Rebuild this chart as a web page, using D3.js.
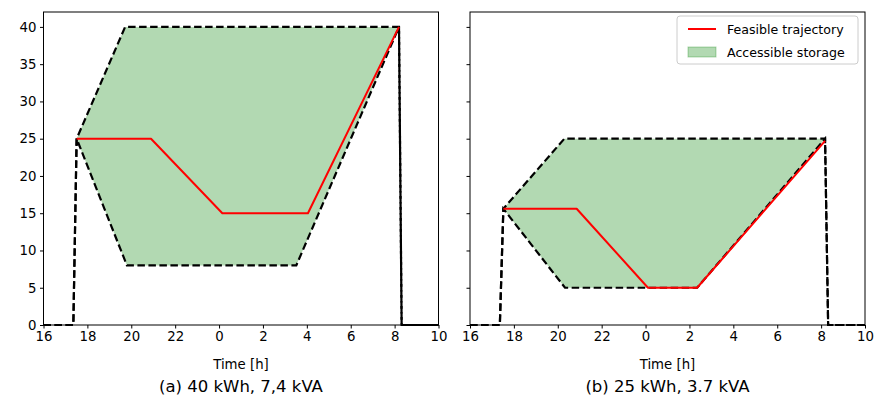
<!DOCTYPE html>
<html>
<head>
<meta charset="utf-8">
<script src="https://cdn.jsdelivr.net/npm/d3@7"></script>
<style>
  body { margin: 0; background: #fff; }
  svg { font-family: "DejaVu Sans", sans-serif; }
  .spine { fill: none; stroke: #000; stroke-width: 1; }
  .tick line { stroke: #000; stroke-width: 1; }
  .bound { fill: none; stroke: #000; stroke-width: 2.2; stroke-dasharray: 7.5,3.5; }
  .traj { fill: none; stroke: #ff0000; stroke-width: 2; stroke-linejoin: round; }
  .area { fill: #008000; fill-opacity: 0.3; stroke: none; }
</style>
</head>
<body>
<div id="box"></div>
<script>
// x ticks in hours from 16:00 (values above 24 are next day)
const xTicks = [16, 18, 20, 22, 24, 26, 28, 30, 32, 34];
const yTicks = [0, 5, 10, 15, 20, 25, 30, 35, 40];

// (a) 40 kWh, 7,4 kVA
const aUpperT = [16, 17.36, 17.51, 19.72, 32.2, 32.32, 34];
const aUpperE = [0, 0, 25, 40, 40, 0, 0];
const aLowerT = [16, 17.36, 17.51, 19.8, 27.52, 32.2, 32.32, 34];
const aLowerE = [0, 0, 25, 8, 8, 40, 0, 0];
const aTrajT = [17.51, 20.9, 24.15, 28.05, 32.2];
const aTrajE = [25, 25, 15, 15, 40];

// (b) 25 kWh, 3.7 kVA
const bUpperT = [16, 17.36, 17.52, 20.3, 32.18, 32.32, 34];
const bUpperE = [0, 0, 15.6, 25, 25, 0, 0];
const bLowerT = [16, 17.36, 17.52, 20.33, 26.35, 32.18, 32.32, 34];
const bLowerE = [0, 0, 15.6, 5, 5, 25, 0, 0];
const bTrajT = [17.52, 20.86, 24.11, 26.35, 32.18];
const bTrajE = [15.6, 15.6, 5, 5, 24.7];

const captions = ["(a) 40 kWh, 7,4 kVA", "(b) 25 kWh, 3.7 kVA"];
const legendLabels = ["Feasible trajectory", "Accessible storage"];

const zip = (t, e) => t.map((d, i) => [d, e[i]]);
const panels = [
  { left: 43.5, upper: zip(aUpperT, aUpperE), lower: zip(aLowerT, aLowerE), traj: zip(aTrajT, aTrajE), labels: true },
  { left: 470, upper: zip(bUpperT, bUpperE), lower: zip(bLowerT, bLowerE), traj: zip(bTrajT, bTrajE), labels: false }
];

const W = 874, H = 397;
const plotTop = 12, plotBottom = 325, pw = 395;

const svg = d3.select('#box').append('svg')
  .attr('width', W)
  .attr('height', H);

const y = d3.scaleLinear().domain([0, 42]).range([plotBottom, plotTop]);

panels.forEach((p, k) => {
  const x = d3.scaleLinear().domain([16, 34]).range([0, pw]);
  const g = svg.append('g').attr('transform', `translate(${p.left},0)`);

  const line = d3.line().x(d => x(d[0])).y(d => y(d[1]));

  // fill between upper and lower bounds
  const poly = p.upper.concat(p.lower.slice().reverse());
  g.append('path')
    .attr('class', 'area')
    .attr('d', line(poly) + 'Z');

  g.append('path').attr('class', 'bound').attr('d', line(p.upper));
  g.append('path').attr('class', 'bound').attr('d', line(p.lower));
  g.append('path').attr('class', 'traj').attr('d', line(p.traj));

  // axes
  const xAxis = d3.axisBottom(x)
    .tickValues(xTicks)
    .tickSize(3.5)
    .tickPadding(3.5)
    .tickFormat(d => d % 24);
  const gx = g.append('g')
    .attr('transform', `translate(0,${plotBottom})`)
    .call(xAxis);
  gx.select('.domain').remove();
  gx.selectAll('text')
    .attr('font-size', '13.3px')
    .attr('font-family', 'DejaVu Sans')
    .attr('fill', '#000');

  const yAxis = d3.axisLeft(y)
    .tickValues(yTicks)
    .tickSize(3.5)
    .tickPadding(3.5)
    .tickFormat(d => p.labels ? d : '');
  const gy = g.append('g').call(yAxis);
  gy.select('.domain').remove();
  gy.selectAll('text')
    .attr('font-size', '13.3px')
    .attr('font-family', 'DejaVu Sans')
    .attr('fill', '#000');

  g.append('rect')
    .attr('class', 'spine')
    .attr('x', 0)
    .attr('y', plotTop)
    .attr('width', pw)
    .attr('height', plotBottom - plotTop);

  g.append('text')
    .attr('x', pw / 2)
    .attr('y', 369)
    .attr('text-anchor', 'middle')
    .attr('font-size', '13.3px')
    .text('Time [h]');

  g.append('text')
    .attr('x', pw / 2)
    .attr('y', 392)
    .attr('text-anchor', 'middle')
    .attr('font-size', '16.5px')
    .text(captions[k]);
});

// legend in panel (b)
const lg = svg.append('g').attr('transform', 'translate(677,16)');
lg.append('rect')
  .attr('width', 181)
  .attr('height', 48)
  .attr('rx', 3)
  .attr('fill', '#fff')
  .attr('fill-opacity', 0.8)
  .attr('stroke', '#cccccc')
  .attr('stroke-width', 1);
lg.append('line')
  .attr('x1', 11).attr('x2', 39)
  .attr('y1', 13).attr('y2', 13)
  .attr('stroke', '#ff0000')
  .attr('stroke-width', 2);
lg.append('rect')
  .attr('x', 11).attr('y', 31)
  .attr('width', 28).attr('height', 10)
  .attr('fill', '#008000').attr('fill-opacity', 0.3)
  .attr('stroke', '#008000').attr('stroke-opacity', 0.3);
lg.selectAll('text.lab')
  .data(legendLabels)
  .enter().append('text')
  .attr('class', 'lab')
  .attr('x', 50)
  .attr('y', (d, i) => 17.5 + i * 23)
  .attr('font-size', '12.6px')
  .text(d => d);
</script>
</body>
</html>
